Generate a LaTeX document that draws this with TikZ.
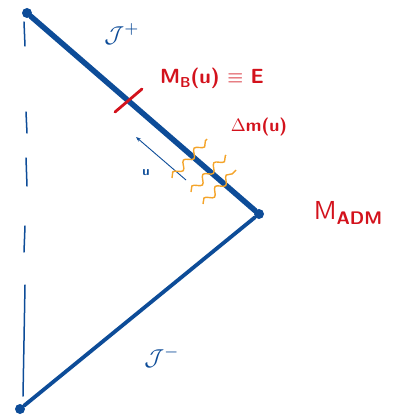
\documentclass[tikz,border=0pt]{standalone}
\usetikzlibrary{decorations.pathmorphing,arrows.meta}
\definecolor{pblue}{HTML}{0D4C98}
\definecolor{pred}{HTML}{D3121C}
\definecolor{porange}{HTML}{F4A42A}
\begin{document}
\begin{tikzpicture}[x=1pt,y=-1pt,
  dotst/.style={circle,fill=pblue,inner sep=0pt,minimum size=10pt},
  scri/.style={line width=5.5pt,pblue,line cap=round},
  scriminus/.style={line width=3.8pt,pblue,line cap=round},
  axis/.style={line width=1.5pt,pblue,line cap=round},
  wig/.style={porange,line width=1.4pt,decorate,decoration={snake,segment length=16pt,amplitude=3.5pt}}]
\useasboundingbox (0,0) rectangle (396,420);
\node[dotst] (top) at (27,13) {};
\node[dotst] (right) at (259,214) {};
\node[dotst] (bot) at (20,409) {};
% axis dashes
\coordinate (a1) at (24,22); \coordinate (a2) at (25,46);
\coordinate (a3) at (26,112); \coordinate (a4) at (27,133);
\coordinate (a5) at (26,158); \coordinate (a6) at (27,186);
\coordinate (a7) at (25,226); \coordinate (a8) at (24,252);
\coordinate (a9) at (25,285); \coordinate (a10) at (23,396);
\draw[axis] (a1) -- (a2);
\draw[axis] (a3) -- (a4);
\draw[axis] (a5) -- (a6);
\draw[axis] (a7) -- (a8);
\draw[axis] (a9) -- (a10);
\draw[scri] (top) -- (right);
\draw[scriminus] (right) -- (bot);
% red tick
\coordinate (r1) at (115,112); \coordinate (r2) at (142,89);
\draw[pred,line width=2.8pt,line cap=round] (r1) -- (r2);
% labels
\node[pblue,scale=2.3] (jp) at (122,34) {$\mathcal{J}^{+}$};
\node[pblue,scale=2.3] (jm) at (162,357) {$\mathcal{J}^{-}$};
\node[pred,scale=2.05,font=\sffamily\bfseries] (mb) at (212,78) {M\raisebox{-0.5ex}{\scriptsize B}(u) $\equiv$ E};
\node[pred,scale=1.8,font=\sffamily\bfseries] (dm) at (259,127) {$\Delta$m(u)};
\node[pred,scale=2.6,font=\sffamily] (madm) at (348,213) {M\raisebox{-0.5ex}{\scriptsize\bfseries ADM}};
% u arrow
\coordinate (u1) at (186,180); \coordinate (u2) at (136,137);
\draw[pblue,line width=0.9pt,-{Stealth[length=5pt]}] (u1) -- (u2);
\node[pblue,scale=1.3,font=\sffamily\bfseries] (ul) at (146,173) {u};
% wiggles
\coordinate (w1a) at (172,178); \coordinate (w1b) at (207,139);
\coordinate (w2a) at (191,192); \coordinate (w2b) at (226,155);
\coordinate (w3a) at (203,204); \coordinate (w3b) at (236,170);
\draw[wig] (w1a) -- (w1b);
\draw[wig] (w2a) -- (w2b);
\draw[wig] (w3a) -- (w3b);
\end{tikzpicture}
\end{document}
